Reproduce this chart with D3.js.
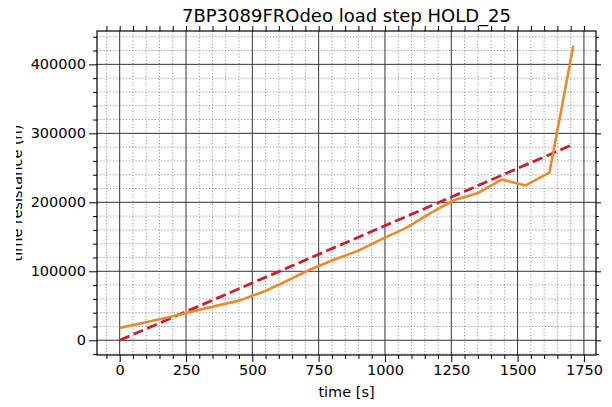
<!DOCTYPE html>
<html>
<head>
<meta charset="utf-8">
<script src="https://cdn.jsdelivr.net/npm/d3@7"></script>
<style>
  body { margin: 0; background: #fff; }
  text { font-family: "DejaVu Sans", sans-serif; fill: #000; }
</style>
</head>
<body>
<div id="chart"></div>
<script>
// Data
const title = "7BP3089FROdeo load step HOLD_25";
const xLabel = "time [s]";
const yLabel = "time resistance (h)";

const times = [0, 90, 180, 270, 360, 450, 540, 630, 720, 810, 900, 990,
  1080, 1170, 1260, 1350, 1440, 1530, 1620, 1710];
const resistance = [18000, 25500, 33000, 41500, 49500, 57500, 70000, 86000,
  103000, 117000, 130000, 147000, 163000, 184000, 203000, 213500, 233000,
  224500, 243000, 427000];

const fitTimes = [0, 1710];
const fitValues = [0, 284000];

const xTicks = [0, 250, 500, 750, 1000, 1250, 1500, 1750];
const yTicks = [0, 100000, 200000, 300000, 400000];

// Dimensions
const dimensions = {
  width: 612,
  height: 407,
  left: 97,
  right: 596,
  top: 31,
  bottom: 355,
};

const svg = d3
  .select("#chart")
  .append("svg")
  .attr("width", dimensions.width)
  .attr("height", dimensions.height);

// Scales (matplotlib style 5% margins)
const xExt = d3.extent(times.concat(fitTimes));
const yExt = d3.extent(resistance.concat(fitValues));
const xPad = (xExt[1] - xExt[0]) * 0.05;
const yPad = (yExt[1] - yExt[0]) * 0.05;

const xScale = d3
  .scaleLinear()
  .domain([xExt[0] - xPad, xExt[1] + xPad])
  .range([dimensions.left, dimensions.right]);

const yScale = d3
  .scaleLinear()
  .domain([yExt[0] - yPad, yExt[1] + yPad])
  .range([dimensions.bottom, dimensions.top]);

const xMinor = d3.range(-100, 1850, 50).filter(
  (v) => v % 250 !== 0 && v >= xScale.domain()[0] && v <= xScale.domain()[1]
);
const yMinor = d3.range(-40000, 480000, 20000).filter(
  (v) => v % 100000 !== 0 && v >= yScale.domain()[0] && v <= yScale.domain()[1]
);

// Grid
const grid = svg.append("g");
grid
  .selectAll(".minor-x")
  .data(xMinor)
  .join("line")
  .attr("x1", (d) => xScale(d))
  .attr("x2", (d) => xScale(d))
  .attr("y1", dimensions.top)
  .attr("y2", dimensions.bottom)
  .attr("stroke", "#8c8c8c")
  .attr("stroke-width", 0.9)
  .attr("stroke-dasharray", "1.2,2");
grid
  .selectAll(".minor-y")
  .data(yMinor)
  .join("line")
  .attr("y1", (d) => yScale(d))
  .attr("y2", (d) => yScale(d))
  .attr("x1", dimensions.left)
  .attr("x2", dimensions.right)
  .attr("stroke", "#8c8c8c")
  .attr("stroke-width", 0.9)
  .attr("stroke-dasharray", "1.2,2");
grid
  .selectAll(".major-x")
  .data(xTicks)
  .join("line")
  .attr("x1", (d) => xScale(d))
  .attr("x2", (d) => xScale(d))
  .attr("y1", dimensions.top)
  .attr("y2", dimensions.bottom)
  .attr("stroke", "#333")
  .attr("stroke-width", 1);
grid
  .selectAll(".major-y")
  .data(yTicks)
  .join("line")
  .attr("y1", (d) => yScale(d))
  .attr("y2", (d) => yScale(d))
  .attr("x1", dimensions.left)
  .attr("x2", dimensions.right)
  .attr("stroke", "#333")
  .attr("stroke-width", 1);

// Lines
const lineGen = d3
  .line()
  .x((d) => xScale(d[0]))
  .y((d) => yScale(d[1]));

svg
  .append("path")
  .datum(fitTimes.map((t, i) => [t, fitValues[i]]))
  .attr("d", lineGen)
  .attr("fill", "none")
  .attr("stroke", "#c9202f")
  .attr("stroke-width", 2.8)
  .attr("stroke-dasharray", "10.5,4.5");

svg
  .append("path")
  .datum(times.map((t, i) => [t, resistance[i]]))
  .attr("d", lineGen)
  .attr("fill", "none")
  .attr("stroke", "#eb8a2c")
  .attr("stroke-width", 2.6)
  .attr("stroke-linejoin", "round");

// Axes (ticks on all four sides)
const fmt = d3.format("d");
svg
  .append("g")
  .attr("transform", `translate(0,${dimensions.bottom})`)
  .call(d3.axisBottom(xScale).tickValues(xTicks).tickFormat(fmt).tickSize(7).tickPadding(3));
svg
  .append("g")
  .attr("transform", `translate(0,${dimensions.bottom})`)
  .call(d3.axisBottom(xScale).tickValues(xMinor).tickFormat("").tickSize(4));
svg
  .append("g")
  .attr("transform", `translate(0,${dimensions.top})`)
  .call(d3.axisTop(xScale).tickValues(xTicks).tickFormat("").tickSize(5));
svg
  .append("g")
  .attr("transform", `translate(0,${dimensions.top})`)
  .call(d3.axisTop(xScale).tickValues(xMinor).tickFormat("").tickSize(5));

svg
  .append("g")
  .attr("transform", `translate(${dimensions.left},0)`)
  .call(d3.axisLeft(yScale).tickValues(yTicks).tickFormat(fmt).tickSize(8).tickPadding(3));
svg
  .append("g")
  .attr("transform", `translate(${dimensions.left},0)`)
  .call(d3.axisLeft(yScale).tickValues(yMinor).tickFormat("").tickSize(4));
svg
  .append("g")
  .attr("transform", `translate(${dimensions.right},0)`)
  .call(d3.axisRight(yScale).tickValues(yTicks).tickFormat("").tickSize(5));
svg
  .append("g")
  .attr("transform", `translate(${dimensions.right},0)`)
  .call(d3.axisRight(yScale).tickValues(yMinor).tickFormat("").tickSize(3));

svg.selectAll(".domain").remove();
svg.selectAll(".tick line").attr("stroke", "#000").attr("stroke-width", 1);
svg
  .selectAll(".tick text")
  .style("font-family", "DejaVu Sans, sans-serif")
  .style("font-size", "14.5px")
  .attr("fill", "#000");

// Frame
svg
  .append("rect")
  .attr("x", dimensions.left)
  .attr("y", dimensions.top)
  .attr("width", dimensions.right - dimensions.left)
  .attr("height", dimensions.bottom - dimensions.top)
  .attr("fill", "none")
  .attr("stroke", "#000")
  .attr("stroke-width", 1.2);

// Title and labels
const midX = (dimensions.left + dimensions.right) / 2;
svg
  .append("text")
  .attr("x", midX)
  .attr("y", 22)
  .attr("text-anchor", "middle")
  .style("font-size", "18px")
  .text(title);

svg
  .append("text")
  .attr("x", midX)
  .attr("y", 397)
  .attr("text-anchor", "middle")
  .style("font-size", "14.5px")
  .text(xLabel);

// y label is cut at the left edge in the original
svg
  .append("clipPath")
  .attr("id", "ylab-clip")
  .append("rect")
  .attr("x", 16)
  .attr("y", 0)
  .attr("width", 40)
  .attr("height", dimensions.height);

const midY = (dimensions.top + dimensions.bottom) / 2;
svg
  .append("g")
  .attr("clip-path", "url(#ylab-clip)")
  .append("text")
  .attr("transform", `translate(22,${midY}) rotate(-90)`)
  .attr("text-anchor", "middle")
  .style("font-size", "14.5px")
  .text(yLabel);
</script>
</body>
</html>
